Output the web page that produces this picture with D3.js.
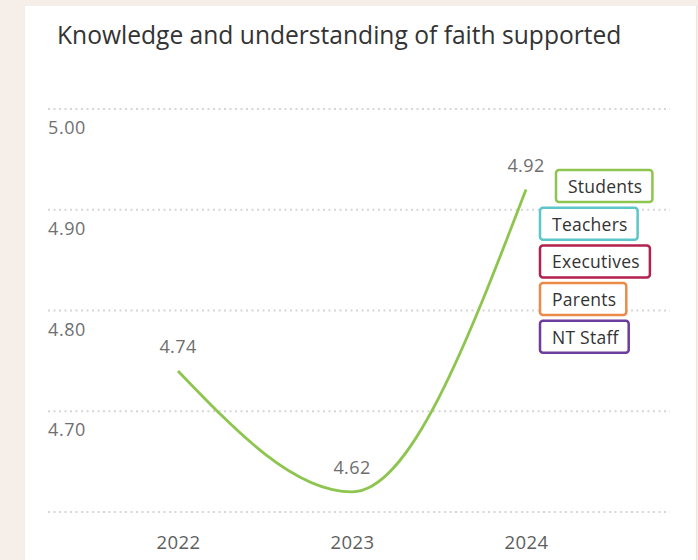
<!DOCTYPE html>
<html>
<head>
<meta charset="utf-8">
<script src="https://cdn.jsdelivr.net/npm/d3@7"></script>
<style>
html,body{margin:0;padding:0;background:#f6eee9;}
svg{display:block;}
</style>
</head>
<body>
<svg id="chart" width="698" height="560"></svg>
<script>
const title = "Knowledge and understanding of faith supported";
const years = ["2022", "2023", "2024"];
const studentValues = [4.74, 4.62, 4.92];
const yTicks = [4.6, 4.7, 4.8, 4.9, 5.0];
const legendNames = ["Students", "Teachers", "Executives", "Parents", "NT Staff"];
const legendColors = ["#8dc54f", "#5cc6cb", "#b3214f", "#ec8a4a", "#6e3d9c"];

const svg = d3.select("#chart");
const font = "'Open Sans', 'Noto Sans', sans-serif";

// card
svg.append("rect").attr("x", 25).attr("y", 6).attr("width", 671).attr("height", 560).attr("fill", "#ffffff");
svg.append("line").attr("x1", 696.5).attr("x2", 696.5).attr("y1", 6).attr("y2", 560).attr("stroke", "#eee3dd").attr("stroke-width", 1);

svg.append("text").attr("x", 57).attr("y", 44)
  .attr("font-family", font).attr("font-size", 24.6).attr("fill", "#333")
  .text(title);

const x = d3.scalePoint().domain(years).range([178, 526]);
const y = d3.scaleLinear().domain([4.6, 5.0]).range([512, 109]);

// grid
const grid = svg.append("g");
grid.selectAll("line").data(yTicks).join("line")
  .attr("x1", 48).attr("x2", 670)
  .attr("y1", d => y(d)).attr("y2", d => y(d))
  .attr("stroke", "#d6d6d6").attr("stroke-width", 2).attr("stroke-dasharray", "2,3.5");

grid.selectAll("text").data(yTicks.filter(d => d > 4.6)).join("text")
  .attr("x", 48).attr("y", d => y(d) + 25)
  .attr("font-family", font).attr("font-size", 18).attr("letter-spacing", 0.6).attr("fill", "#707070")
  .text(d => d3.format(".2f")(d));

// x axis labels
const xAxis = d3.axisBottom(x).tickSize(0).tickPadding(0);
const xg = svg.append("g").attr("transform", "translate(0,536)").call(xAxis);
xg.select(".domain").remove();
xg.selectAll("text").attr("font-family", font).attr("font-size", 18.5).attr("letter-spacing", 0.4).attr("fill", "#5e5e5e");

// line
const data = years.map((yr, i) => ({yr, v: studentValues[i]}));
const line = d3.line().x(d => x(d.yr)).y(d => y(d.v)).curve(d3.curveMonotoneX);
svg.append("path").datum(data).attr("d", line)
  .attr("fill", "none").attr("stroke", legendColors[0]).attr("stroke-width", 2.8);

svg.selectAll(".vlab").data(data).join("text").attr("class", "vlab")
  .attr("x", d => x(d.yr)).attr("y", d => y(d.v) - 18)
  .attr("text-anchor", "middle")
  .attr("font-family", font).attr("font-size", 18).attr("letter-spacing", 0.4).attr("fill", "#6e6e6e")
  .text(d => d3.format(".2f")(d.v));

// legend
const legendX = [556, 540, 540, 540, 540];
const lg = svg.append("g");
legendNames.forEach((name, i) => {
  const g = lg.append("g").attr("transform", `translate(${legendX[i]},${170 + i * 37.7})`);
  const t = g.append("text").attr("x", 12).attr("y", 23)
    .attr("font-family", font).attr("font-size", 17.5).attr("letter-spacing", 0.25).attr("fill", "#333").text(name);
  const w = t.node().getComputedTextLength() + 22;
  g.insert("rect", "text").attr("x", 0).attr("y", 0).attr("width", w).attr("height", 32)
    .attr("rx", 3).attr("fill", "#fff").attr("stroke", legendColors[i]).attr("stroke-width", 2.5);
});
</script>
</body>
</html>
